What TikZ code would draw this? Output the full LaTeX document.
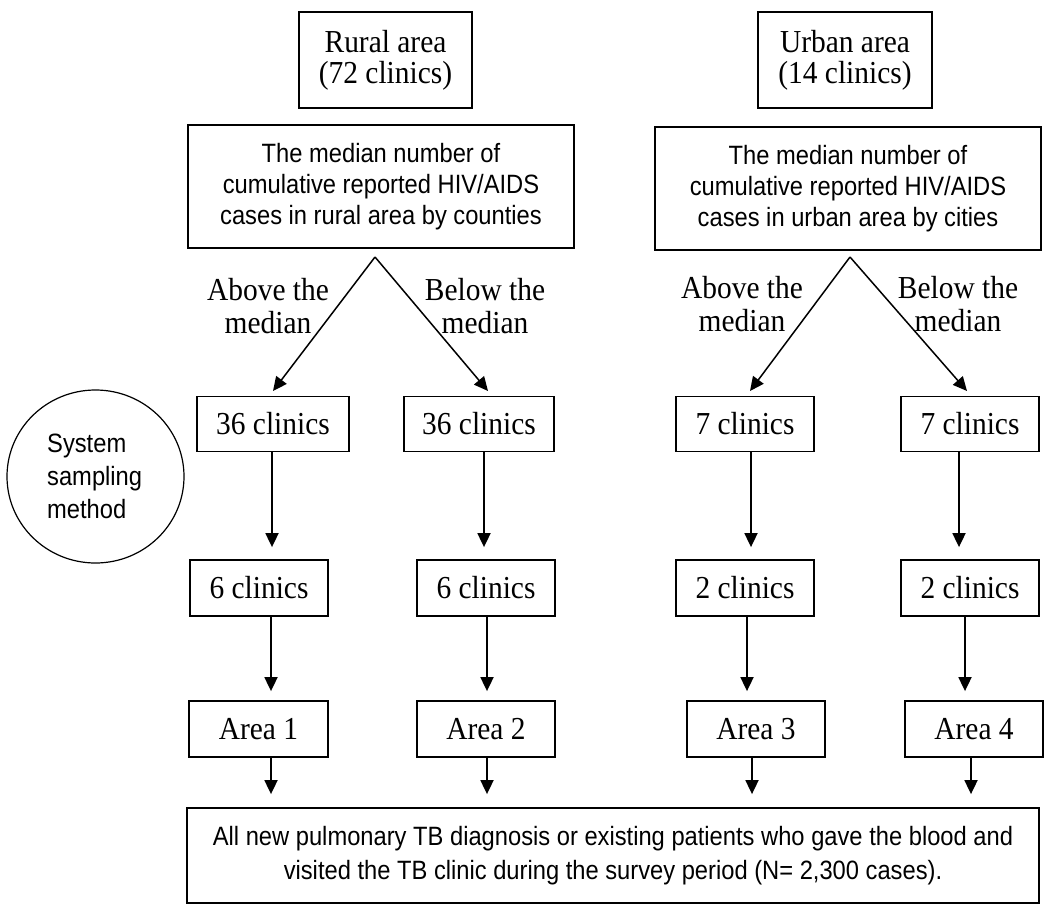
\documentclass[tikz,border=0pt]{standalone}
\usepackage{fontspec}
\setmainfont{Liberation Serif}[FakeStretch=0.92]
\newfontfamily\sansf{Liberation Sans}[FakeStretch=0.895]
\usetikzlibrary{arrows.meta,shapes.geometric}
\begin{document}
\begin{tikzpicture}[x=1pt,y=-1pt,
  box/.style={draw, line width=1.8pt, inner sep=0pt, align=center},
  serif/.style={font=\fontsize{32}{31}\selectfont},
  sans/.style={font=\sansf\fontsize{26.5}{31}\selectfont},
  arr/.style={line width=1.8pt, -{Triangle[width=13pt,length=14pt]}},
  darr/.style={line width=1.5pt, -{Triangle[width=13pt,length=14pt]}},
  lbl/.style={align=center, inner sep=0pt, font=\fontsize{32}{33}\selectfont},
  clin/.style={box, serif, minimum height=55pt}]
\useasboundingbox (0,0) rectangle (1050,916);

% top boxes
\node[box,serif,minimum width=173pt,minimum height=96pt] (rural) at (385.5,60) {Rural area\\(72 clinics)};
\node[box,serif,minimum width=174pt,minimum height=96pt] (urban) at (845,60) {Urban area\\(14 clinics)};

% median boxes
\node[box,sans,minimum width=386pt,minimum height=123pt] (medR) at (381,186.5)
  {The median number of\\cumulative reported HIV/AIDS\\cases in rural area by counties};
\node[box,sans,minimum width=386pt,minimum height=123pt] (medU) at (848,188.5)
  {The median number of\\cumulative reported HIV/AIDS\\cases in urban area by cities};

% labels
\node[lbl] (labRa) at (268,306) {Above the\\median};
\node[lbl] (labRb) at (485,306) {Below the\\median};
\node[lbl] (labUa) at (742,304) {Above the\\median};
\node[lbl] (labUb) at (958,304) {Below the\\median};

% circle
\node[draw, ellipse, line width=1.2pt, minimum width=177pt, minimum height=173pt, inner sep=0pt] (sys) at (95.5,476.5) {};
\node[align=left, anchor=west, inner sep=0pt, font=\sansf\fontsize{26.5}{33}\selectfont] (systxt) at (47,476) {System\\sampling\\method};

% clinic rows
\node[clin, minimum width=152pt] (c36a) at (273,424) {36 clinics};
\node[clin, minimum width=150pt] (c36b) at (479,424) {36 clinics};
\node[clin, minimum width=138pt] (c7a) at (745,424) {7 clinics};
\node[clin, minimum width=138pt] (c7b) at (970,424) {7 clinics};

\node[clin, minimum width=138pt, minimum height=56pt] (c6a) at (259,588) {6 clinics};
\node[clin, minimum width=138pt, minimum height=56pt] (c6b) at (486,588) {6 clinics};
\node[clin, minimum width=138pt, minimum height=56pt] (c2a) at (745,588) {2 clinics};
\node[clin, minimum width=138pt, minimum height=56pt] (c2b) at (970,588) {2 clinics};

\node[clin, minimum width=139pt, minimum height=56pt] (a1) at (258.5,729) {Area 1};
\node[clin, minimum width=138pt, minimum height=56pt] (a2) at (486,729) {Area 2};
\node[clin, minimum width=138pt, minimum height=56pt] (a3) at (756,729) {Area 3};
\node[clin, minimum width=138pt, minimum height=56pt] (a4) at (974,729) {Area 4};

\node[box, minimum width=852pt, minimum height=95pt, font=\sansf\fontsize{26.5}{34}\selectfont] (bot) at (613,855.5)
  {All new pulmonary TB diagnosis or existing patients who gave the blood and\\visited the TB clinic during the survey period (N= 2,300 cases).};

% diagonal arrows
\coordinate (apR) at (375,257);
\coordinate (apU) at (850,257);
\coordinate (tRa) at (273,391);
\coordinate (tRb) at (488,391);
\coordinate (tUa) at (750,391);
\coordinate (tUb) at (967,391);
\draw[darr] (apR) -- (tRa);
\draw[darr] (apR) -- (tRb);
\draw[darr] (apU) -- (tUa);
\draw[darr] (apU) -- (tUb);

% column x positions
\coordinate (xA1) at (272,0);
\coordinate (xA2) at (271,0);
\coordinate (xB1) at (484,0);
\coordinate (xB2) at (487,0);
\coordinate (xC1) at (751,0);
\coordinate (xC2) at (747,0);
\coordinate (xC3) at (752,0);
\coordinate (xD1) at (959,0);
\coordinate (xD2) at (965,0);
\coordinate (xD3) at (971,0);

% vertical arrows
\draw[arr, shorten >=12pt] (c36a.south -| xA1) -- (c6a.north -| xA1);
\draw[arr, shorten >=12pt] (c36b.south -| xB1) -- (c6b.north -| xB1);
\draw[arr, shorten >=12pt] (c7a.south -| xC1) -- (c2a.north -| xC1);
\draw[arr, shorten >=12pt] (c7b.south -| xD1) -- (c2b.north -| xD1);

\draw[arr, shorten >=9pt] (c6a.south -| xA2) -- (a1.north -| xA2);
\draw[arr, shorten >=9pt] (c6b.south -| xB2) -- (a2.north -| xB2);
\draw[arr, shorten >=9pt] (c2a.south -| xC2) -- (a3.north -| xC2);
\draw[arr, shorten >=9pt] (c2b.south -| xD2) -- (a4.north -| xD2);

\draw[arr, shorten >=13pt] (a1.south -| xA2) -- (bot.north -| xA2);
\draw[arr, shorten >=13pt] (a2.south -| xB2) -- (bot.north -| xB2);
\draw[arr, shorten >=13pt] (a3.south -| xC3) -- (bot.north -| xC3);
\draw[arr, shorten >=13pt] (a4.south -| xD3) -- (bot.north -| xD3);
\end{tikzpicture}
\end{document}
